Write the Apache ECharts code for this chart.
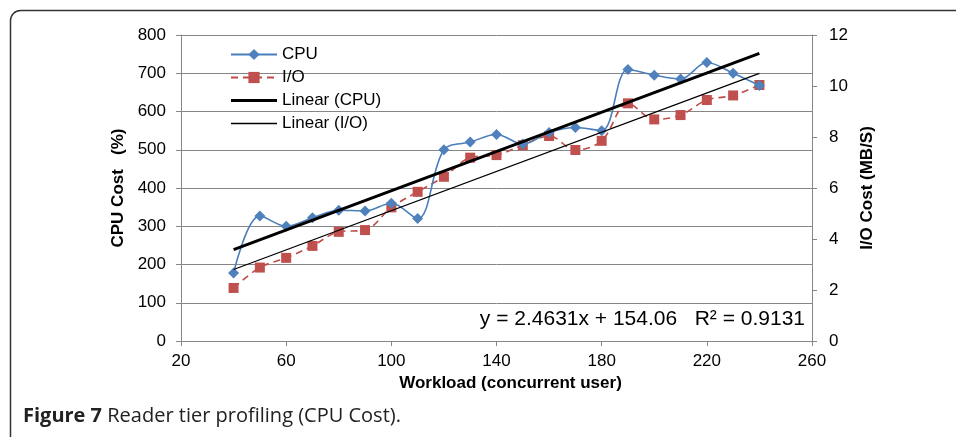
<!DOCTYPE html>
<html>
<head>
<meta charset="utf-8">
<script src="https://cdn.jsdelivr.net/npm/echarts@6/dist/echarts.min.js"></script>
<style>
html,body{margin:0;padding:0;background:#fff;}
#chart{width:956px;height:437px;}
</style>
</head>
<body>
<div id="chart"></div>
<script>
// ---- data ----
const workload = [40, 50, 60, 70, 80, 90, 100, 110, 120, 130, 140, 150, 160, 170, 180, 190, 200, 210, 220, 230, 240];
const cpuCost = [178, 327, 300, 322, 342, 340, 360, 320, 500, 520, 540, 515, 545, 558, 550, 710, 695, 685, 728, 700, 668];
const ioCost = [2.08, 2.88, 3.26, 3.73, 4.28, 4.35, 5.24, 5.85, 6.44, 7.19, 7.29, 7.68, 8.04, 7.49, 7.85, 9.32, 8.69, 8.86, 9.45, 9.63, 10.04];
const xTicks = [20, 60, 100, 140, 180, 220, 260];
const cpuTicks = [0, 100, 200, 300, 400, 500, 600, 700, 800];
const ioTicks = [0, 2, 4, 6, 8, 10, 12];
const seriesNames = ['CPU', 'I/O', 'Linear (CPU)', 'Linear (I/O)'];
const equationText = 'y = 2.4631x + 154.06   R² = 0.9131';
const captionBold = 'Figure 7';
const captionRest = ' Reader tier profiling (CPU Cost).';

// least-squares trend line through the data, drawn at the first and last workload
function trend(xs, ys) {
  const n = xs.length;
  const mx = xs.reduce((a, b) => a + b, 0) / n;
  const my = ys.reduce((a, b) => a + b, 0) / n;
  let sxy = 0, sxx = 0;
  for (let i = 0; i < n; i++) { sxy += (xs[i] - mx) * (ys[i] - my); sxx += (xs[i] - mx) * (xs[i] - mx); }
  const b = sxy / sxx, a = my - b * mx;
  const x0 = xs[0], x1 = xs[n - 1];
  return [[x0, a + b * x0], [x1, a + b * x1]];
}

const pair = (xs, ys) => xs.map((x, i) => [x, ys[i]]);

const FONT = '"Liberation Sans", Arial, sans-serif';
const GRAY = '#868686';

const chart = echarts.init(document.getElementById('chart'), null, { renderer: 'canvas' });
chart.setOption({
  backgroundColor: '#fff',
  animation: false,
  textStyle: { fontFamily: FONT },
  grid: { left: 181, right: 144, top: 35, bottom: 96, containLabel: false },
  legend: {
    orient: 'vertical',
    left: 225, top: 41,
    itemWidth: 46, itemHeight: 14, itemGap: 6,
    symbolKeepAspect: true,
    textStyle: { fontFamily: FONT, fontSize: 17, color: '#000' },
    data: [
      { name: seriesNames[0] },
      { name: seriesNames[1] },
      { name: seriesNames[2], icon: 'path://M0,0H46V3H0Z' },
      { name: seriesNames[3], icon: 'path://M0,0H46V1.3H0Z' }
    ]
  },
  xAxis: {
    type: 'value', min: xTicks[0], max: xTicks[xTicks.length - 1], interval: 40,
    name: 'Workload (concurrent user)', nameLocation: 'middle', nameGap: 34,
    nameTextStyle: { fontFamily: FONT, fontSize: 17, fontWeight: 'bold', color: '#000', padding: [0, 0, 0, 28] },
    axisLine: { lineStyle: { color: GRAY, width: 1 } },
    axisTick: { show: true, length: 5, lineStyle: { color: GRAY } },
    axisLabel: { fontFamily: FONT, fontSize: 17, color: '#000', margin: 12 },
    splitLine: { show: false }
  },
  yAxis: [
    {
      type: 'value', min: cpuTicks[0], max: cpuTicks[cpuTicks.length - 1], interval: 100,
      name: 'CPU Cost   (%)', nameLocation: 'middle', nameGap: 54, nameRotate: 90,
      nameTextStyle: { fontFamily: FONT, fontSize: 17, fontWeight: 'bold', color: '#000' },
      axisLine: { show: true, lineStyle: { color: GRAY, width: 1 } },
      axisTick: { show: true, length: 5, lineStyle: { color: GRAY } },
      axisLabel: { fontFamily: FONT, fontSize: 17, color: '#000', margin: 15 },
      splitLine: { show: true, lineStyle: { color: GRAY, width: 1 } }
    },
    {
      type: 'value', position: 'right', min: ioTicks[0], max: ioTicks[ioTicks.length - 1], interval: 2,
      name: 'I/O Cost (MB/S)', nameLocation: 'middle', nameGap: 38, nameRotate: 90,
      nameTextStyle: { fontFamily: FONT, fontSize: 17, fontWeight: 'bold', color: '#000' },
      axisLine: { show: true, lineStyle: { color: GRAY, width: 1 } },
      axisTick: { show: true, length: 5, lineStyle: { color: GRAY } },
      axisLabel: { fontFamily: FONT, fontSize: 17, color: '#000', margin: 17 },
      splitLine: { show: false }
    }
  ],
  series: [
    {
      name: seriesNames[0], type: 'line', yAxisIndex: 0, smooth: 0.35,
      data: pair(workload, cpuCost),
      symbol: 'diamond', symbolSize: 11,
      itemStyle: { color: '#4F81BD' },
      lineStyle: { color: '#4A7EBB', width: 1.6 },
      z: 4
    },
    {
      name: seriesNames[1], type: 'line', yAxisIndex: 1, smooth: 0.35,
      data: pair(workload, ioCost),
      symbol: 'rect', symbolSize: 10,
      itemStyle: { color: '#C0504D' },
      lineStyle: { color: '#BE4B48', width: 1.6, type: [7, 5] },
      z: 3
    },
    {
      name: seriesNames[2], type: 'line', yAxisIndex: 0,
      data: trend(workload, cpuCost),
      symbol: 'none', itemStyle: { color: '#000' },
      lineStyle: { color: '#000', width: 3 },
      z: 5
    },
    {
      name: seriesNames[3], type: 'line', yAxisIndex: 1,
      data: trend(workload, ioCost),
      symbol: 'none', itemStyle: { color: '#000' },
      lineStyle: { color: '#000', width: 1.3 },
      z: 5
    }
  ],
  graphic: [
    {
      type: 'rect', left: 8, top: 8, z: -1, silent: true,
      shape: { width: 1000, height: 470, r: 10 },
      style: { fill: 'none', stroke: '#333', lineWidth: 1.5 }
    },
    {
      type: 'text', right: 151, top: 309,
      style: { text: equationText, font: '21px ' + FONT, fill: '#000' }
    },
    {
      type: 'text', left: 23, top: 406,
      style: {
        text: '{b|' + captionBold + '}{r|' + captionRest + '}',
        rich: {
          b: { font: 'bold 20px "Open Sans", "Noto Sans", sans-serif', fill: '#222' },
          r: { font: '20px "Open Sans", "Noto Sans", sans-serif', fill: '#222' }
        }
      }
    }
  ]
});
</script>
</body>
</html>
